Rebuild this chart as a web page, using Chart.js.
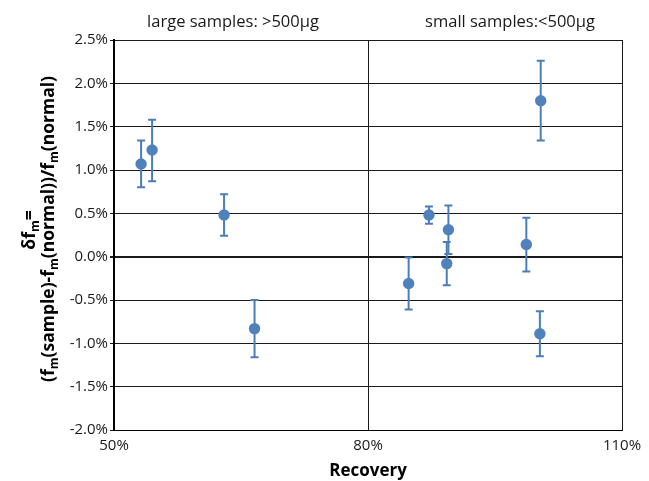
<!DOCTYPE html>
<html>
<head>
<meta charset="utf-8">
<script src="https://cdn.jsdelivr.net/npm/chart.js@4/dist/chart.umd.min.js"></script>
<style>
  html, body { margin: 0; padding: 0; background: #ffffff; }
  #wrap { width: 649px; height: 481px; position: relative; }
</style>
</head>
<body>
<div id="wrap"><canvas id="c" width="649" height="481"></canvas></div>
<script>
// ---- data ----
const largeRecovery = [53.2, 54.5, 63.0, 66.6];
const largeDelta    = [1.07, 1.23, 0.48, -0.83];
const largeErrUp    = [0.27, 0.35, 0.24, 0.33];
const largeErrDown  = [0.27, 0.36, 0.24, 0.33];

const smallRecovery = [84.8, 87.2, 89.3, 89.5, 98.7, 100.3, 100.4];
const smallDelta    = [-0.31, 0.48, -0.08, 0.31, 0.14, -0.89, 1.80];
const smallErrUp    = [0.30, 0.10, 0.25, 0.28, 0.31, 0.26, 0.46];
const smallErrDown  = [0.30, 0.10, 0.25, 0.28, 0.31, 0.26, 0.46];

const groupLabels = ['large samples: >500\u00b5g', 'small samples:<500\u00b5g'];
const groupLabelX = [233, 510];
const xTickValues = [50, 80, 110];
const yMin = -2.0, yMax = 2.5, yStep = 0.5;
const xTitle = 'Recovery';
// y title pieces: [text, isSubscript]
const yTitleLine1 = [['\u03b4f', false], ['m', true], ['=', false]];
const yTitleLine2 = [['(f', false], ['m', true], ['(sample)-f', false], ['m', true], ['(normal))/f', false], ['m', true], ['(normal)', false]];

const BLUE = '#4F81BD';
const ERR = '#4A7EBB';
const FONT = "'Open Sans', 'Noto Sans', sans-serif";

function pts(xs, ys) { return xs.map((x, i) => ({ x: x, y: ys[i] })); }

const errorBars = {
  id: 'errorBars',
  beforeDatasetsDraw(chart) {
    const ctx = chart.ctx;
    const xs = chart.scales.x, ys = chart.scales.y;
    const sets = [
      [largeRecovery, largeDelta, largeErrUp, largeErrDown],
      [smallRecovery, smallDelta, smallErrUp, smallErrDown]
    ];
    ctx.save();
    ctx.strokeStyle = ERR;
    ctx.lineWidth = 2;
    sets.forEach(([rx, dy, up, dn]) => {
      rx.forEach((r, i) => {
        const px = xs.getPixelForValue(r);
        const pt = ys.getPixelForValue(dy[i] + up[i]);
        const pb = ys.getPixelForValue(dy[i] - dn[i]);
        ctx.beginPath();
        ctx.moveTo(px, pt); ctx.lineTo(px, pb);
        ctx.moveTo(px - 4, pt); ctx.lineTo(px + 4, pt);
        ctx.moveTo(px - 4, pb); ctx.lineTo(px + 4, pb);
        ctx.stroke();
      });
    });
    ctx.restore();
  }
};

const annotations = {
  id: 'annotations',
  afterDraw(chart) {
    const ctx = chart.ctx;
    ctx.save();
    ctx.fillStyle = '#1a1a1a';
    ctx.font = "16.5px " + FONT;
    ctx.textAlign = 'center';
    ctx.textBaseline = 'middle';
    ctx.fillText(groupLabels[0], groupLabelX[0], 22);
    ctx.fillText(groupLabels[1], groupLabelX[1], 22);

    const big = "bold 17.5px " + FONT;
    const sub = "bold 12px " + FONT;
    function drawLine(parts, baseX, centerY) {
      let total = 0;
      parts.forEach(([t, s]) => { ctx.font = s ? sub : big; total += ctx.measureText(t).width; });
      ctx.save();
      ctx.translate(baseX, centerY);
      ctx.rotate(-Math.PI / 2);
      ctx.textAlign = 'left';
      ctx.textBaseline = 'alphabetic';
      let x = -total / 2;
      parts.forEach(([t, s]) => {
        ctx.font = s ? sub : big;
        ctx.fillText(t, x, s ? 4 : 0);
        x += ctx.measureText(t).width;
      });
      ctx.restore();
    }
    ctx.fillStyle = '#000000';
    drawLine(yTitleLine1, 35, 230);
    drawLine(yTitleLine2, 54, 229);
    ctx.restore();
  }
};

const chart = new Chart(document.getElementById('c'), {
  type: 'scatter',
  data: {
    datasets: [
      { label: 'large', data: pts(largeRecovery, largeDelta), backgroundColor: BLUE, borderColor: BLUE, pointRadius: 5.7, pointHoverRadius: 5.7, borderWidth: 0 },
      { label: 'small', data: pts(smallRecovery, smallDelta), backgroundColor: BLUE, borderColor: BLUE, pointRadius: 5.7, pointHoverRadius: 5.7, borderWidth: 0 }
    ]
  },
  options: {
    responsive: false,
    animation: false,
    devicePixelRatio: 1,
    layout: { padding: { left: 0, right: 27, top: 40, bottom: 0 } },
    plugins: { legend: { display: false }, tooltip: { enabled: false } },
    scales: {
      x: {
        type: 'linear',
        min: 50, max: 110,
        afterFit(s) { s.height = 51; },
        afterBuildTicks(s) { s.ticks = xTickValues.map(v => ({ value: v })); },
        ticks: { callback: v => v + '%', color: '#1a1a1a', font: { family: FONT, size: 15 }, padding: 7, maxRotation: 0 },
        grid: { color: '#1a1a1a', lineWidth: 1, drawTicks: false },
        border: { display: true, color: '#000000', width: 1 },
        title: { display: true, text: xTitle, color: '#000000', font: { family: FONT, size: 17, weight: 'bold' }, padding: { top: 0, bottom: 0 } }
      },
      y: {
        type: 'linear',
        min: yMin, max: yMax,
        afterFit(s) { s.width = 114; },
        ticks: { stepSize: yStep, callback: v => v.toFixed(1) + '%', color: '#1a1a1a', font: { family: FONT, size: 15 }, padding: 2 },
        grid: {
          color: '#1a1a1a',
          lineWidth: c => (c.tick && Math.abs(c.tick.value) < 1e-9) ? 2 : 1,
          tickLength: 4,
          drawTicks: true
        },
        border: { display: true, color: '#000000', width: 2 }
      }
    }
  },
  plugins: [errorBars, annotations]
});
</script>
</body>
</html>
